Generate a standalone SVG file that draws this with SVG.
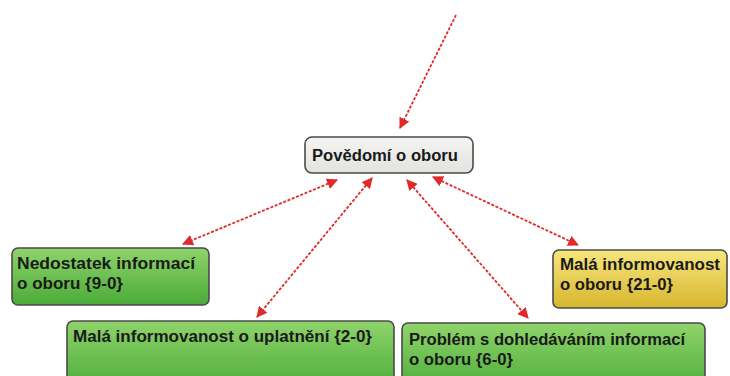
<svg xmlns="http://www.w3.org/2000/svg" width="730" height="376" viewBox="0 0 730 376">
  <defs>
    <linearGradient id="gGreen" x1="0" y1="0" x2="0" y2="1">
      <stop offset="0" stop-color="#8fd46a"/>
      <stop offset="1" stop-color="#4aab38"/>
    </linearGradient>
    <linearGradient id="gYellow" x1="0" y1="0" x2="0" y2="1">
      <stop offset="0" stop-color="#f6e67e"/>
      <stop offset="1" stop-color="#d8b62e"/>
    </linearGradient>
    <linearGradient id="gGray" x1="0" y1="0" x2="0" y2="1">
      <stop offset="0" stop-color="#f4f4f2"/>
      <stop offset="1" stop-color="#e2e2df"/>
    </linearGradient>
    <marker id="head" viewBox="0 0 10 10" refX="9" refY="5" markerWidth="11" markerHeight="11" markerUnits="userSpaceOnUse" orient="auto-start-reverse">
      <path d="M0,0 L10,5 L0,10 z" fill="#e02a2a"/>
    </marker>
  </defs>
  <style>
    .box { stroke: #4a4a4a; stroke-width: 1.6; }
    .lbl { font-family: "Liberation Sans", Arial, sans-serif; font-weight: bold; font-size: 16px; fill: #1a1a1a; }
    .link { fill: none; stroke: #e02a2a; stroke-width: 1.8; stroke-dasharray: 3 1.6; }
  </style>

  <g id="connectors">
    <line class="link" x1="456" y1="15" x2="400" y2="128" marker-end="url(#head)"/>
    <line class="link" x1="337" y1="180" x2="183" y2="244" marker-start="url(#head)" marker-end="url(#head)"/>
    <line class="link" x1="372" y1="178" x2="257" y2="317" marker-start="url(#head)" marker-end="url(#head)"/>
    <line class="link" x1="407" y1="180" x2="528" y2="318" marker-start="url(#head)" marker-end="url(#head)"/>
    <line class="link" x1="433" y1="177" x2="578" y2="245" marker-start="url(#head)" marker-end="url(#head)"/>
  </g>

  <g id="povedomi">
    <rect class="box" x="305" y="137" width="168" height="36" rx="7" fill="url(#gGray)"/>
    <text class="lbl" x="312" y="161" textLength="146" lengthAdjust="spacingAndGlyphs">Povědomí o oboru</text>
  </g>

  <g id="nedostatek">
    <rect class="box" x="12" y="248" width="197" height="57" rx="6" fill="url(#gGreen)"/>
    <text class="lbl" x="17" y="269" textLength="178" lengthAdjust="spacingAndGlyphs">Nedostatek informací</text>
    <text class="lbl" x="17" y="289" textLength="106" lengthAdjust="spacingAndGlyphs">o oboru {9-0}</text>
  </g>

  <g id="uplatneni">
    <rect class="box" x="67" y="321" width="327" height="70" rx="6" fill="url(#gGreen)"/>
    <text class="lbl" x="73" y="342" textLength="299" lengthAdjust="spacingAndGlyphs">Malá informovanost o uplatnění {2-0}</text>
  </g>

  <g id="dohledavani">
    <rect class="box" x="402" y="323" width="303" height="70" rx="6" fill="url(#gGreen)"/>
    <text class="lbl" x="409" y="345" textLength="276" lengthAdjust="spacingAndGlyphs">Problém s dohledáváním informací</text>
    <text class="lbl" x="409" y="365" textLength="104" lengthAdjust="spacingAndGlyphs">o oboru {6-0}</text>
  </g>

  <g id="informovanost">
    <rect class="box" x="553" y="250" width="174" height="58" rx="6" fill="url(#gYellow)"/>
    <text class="lbl" x="560" y="270" textLength="160" lengthAdjust="spacingAndGlyphs">Malá informovanost</text>
    <text class="lbl" x="560" y="290" textLength="113" lengthAdjust="spacingAndGlyphs">o oboru {21-0}</text>
  </g>
</svg>
